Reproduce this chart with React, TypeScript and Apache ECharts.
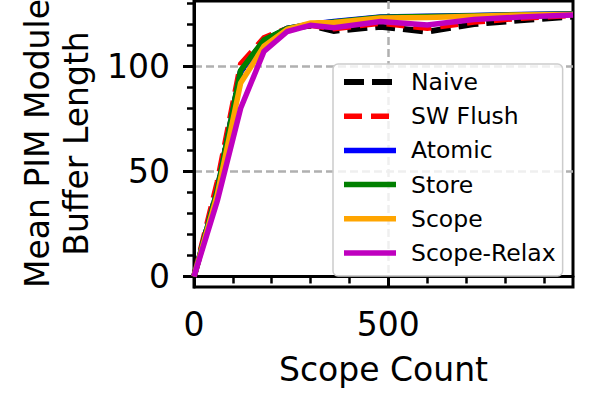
import React, { useEffect, useRef } from "react";
import * as echarts from "echarts";

const xValues = [0, 60, 120, 180, 240, 300, 360, 480, 600, 720, 840, 975];
const naive = [0, 41, 97.5, 112, 117.8, 119.3, 116.8, 118.8, 116.4, 120, 121.8, 123.6];
const swFlush = [0, 45, 101, 113.5, 118, 119.5, 117.8, 120.5, 118, 121, 122.8, 124.2];
const atomic = [0, 41, 97.5, 112, 118, 120, 121.2, 123.4, 123.7, 124.1, 124.6, 124.9];
const store = [0, 41, 98, 112.5, 118, 120, 121, 123.3, 123.6, 124, 124.5, 124.8];
const scope = [0, 39, 92, 109.5, 117.5, 120.5, 120.8, 122.9, 123.2, 123.8, 124.3, 124.6];
const scopeRelax = [0, 36, 80, 107, 116.5, 119.5, 118.3, 121.2, 119.6, 122.2, 123.4, 124.4];

const seriesNames = ["Naive", "SW Flush", "Atomic", "Store", "Scope", "Scope-Relax"];
const xMajorTicks = [0, 500];
const xMinorTicks = [100, 200, 300, 400, 600, 700, 800, 900];
const yMajorTicks = [0, 50, 100];
const yMinorTicks = [10, 20, 30, 40, 60, 70, 80, 90, 110, 120, 130];

const FONT = "DejaVu Sans";

export default function App() {
  const ref = useRef<HTMLDivElement>(null);
  useEffect(() => {
    if (!ref.current) return;
    const chart = echarts.init(ref.current, null, { renderer: "svg" });
    const pairs = (arr: number[]) => xValues.map((x, i) => [x, arr[i]]);
    const styles = [
      { data: naive, color: "#000000", width: 6, type: [20, 8] },
      { data: swFlush, color: "#ff0000", width: 5.5, type: [18, 9] },
      { data: atomic, color: "#0000ff", width: 5.5, type: "solid" },
      { data: store, color: "#008000", width: 5.5, type: "solid" },
      { data: scope, color: "#ffa500", width: 5.5, type: "solid" },
      { data: scopeRelax, color: "#bf00bf", width: 5.5, type: "solid" },
    ];
    const tickStyle = { color: "#000", width: 3 };
    const splitStyle = { color: "#b0b0b0", width: 2.5, type: [8, 4] };
    chart.setOption({
      animation: false,
      backgroundColor: "#ffffff",
      grid: {
        left: 194,
        right: 25,
        top: 1,
        bottom: 112,
        show: true,
        borderColor: "#000",
        borderWidth: 3,
        backgroundColor: "transparent",
        containLabel: false,
      },
      xAxis: [
        {
          type: "value",
          min: 0,
          max: 975,
          position: "bottom",
          name: "Scope Count",
          nameLocation: "middle",
          nameGap: 66,
          nameTextStyle: { fontSize: 33, fontFamily: FONT, color: "#000" },
          axisLine: { show: true, lineStyle: { color: "#000", width: 3 } },
          axisTick: { show: true, length: 11, lineStyle: tickStyle, customValues: xMajorTicks },
          axisLabel: { fontSize: 33, fontFamily: FONT, color: "#000", margin: 21, customValues: xMajorTicks },
          splitLine: { show: true, lineStyle: splitStyle },
        },
        {
          type: "value",
          min: 0,
          max: 975,
          position: "bottom",
          axisLine: { show: false },
          axisTick: { show: true, length: 7, lineStyle: { color: "#000", width: 2.5 }, customValues: xMinorTicks },
          axisLabel: { show: false },
          splitLine: { show: false },
        },
      ],
      yAxis: [
        {
          type: "value",
          min: -5,
          max: 131,
          position: "left",
          axisLine: { show: true, lineStyle: { color: "#000", width: 3 } },
          axisTick: { show: true, length: 11, lineStyle: tickStyle, customValues: yMajorTicks },
          axisLabel: { fontSize: 33, fontFamily: FONT, color: "#000", margin: 24, customValues: yMajorTicks },
          splitLine: { show: true, lineStyle: splitStyle },
        },
        {
          type: "value",
          min: -5,
          max: 131,
          position: "left",
          axisLine: { show: false },
          axisTick: { show: true, length: 7, lineStyle: { color: "#000", width: 2.5 }, customValues: yMinorTicks },
          axisLabel: { show: false },
          splitLine: { show: false },
        },
      ],
      legend: {
        orient: "vertical",
        left: 333,
        top: 64,
        itemWidth: 52,
        itemHeight: 14,
        itemGap: 10.2,
        padding: [6, 7, 11, 8],
        backgroundColor: "rgba(255,255,255,0.8)",
        borderColor: "#cccccc",
        borderWidth: 1.5,
        borderRadius: 5,
        selectedMode: false,
        itemStyle: { opacity: 0 },
        textStyle: {
          fontSize: 23.5,
          fontFamily: FONT,
          color: "#000",
          lineHeight: 24,
          padding: [0, 0, 0, 10],
        },
        data: seriesNames.map((name, i) => ({
          name,
          itemStyle: { opacity: 0 },
          lineStyle: {
            width: styles[i].width,
            color: styles[i].color,
            type: styles[i].type,
            cap: "butt",
            opacity: 1,
          },
        })),
      },
      graphic: [
        {
          type: "text",
          x: 57,
          y: 143.5,
          rotation: Math.PI / 2,
          style: {
            text: "Mean PIM Module\nBuffer Length",
            fontSize: 33,
            fontFamily: FONT,
            fill: "#000",
            align: "center",
            verticalAlign: "middle",
            lineHeight: 38.5,
          },
        },
      ],
      series: styles.map((s, i) => ({
        name: seriesNames[i],
        type: "line",
        xAxisIndex: 0,
        yAxisIndex: 0,
        data: pairs(s.data),
        symbol: "none",
        showSymbol: false,
        clip: true,
        color: s.color,
        lineStyle: { color: s.color, width: s.width, type: s.type, cap: "butt", join: "miter" },
        emphasis: { disabled: true },
      })),
    });
    return () => chart.dispose();
  }, []);
  return (
    <div
      ref={ref}
      style={{ position: "fixed", left: 0, top: 0, width: 598, height: 399 }}
    />
  );
}
